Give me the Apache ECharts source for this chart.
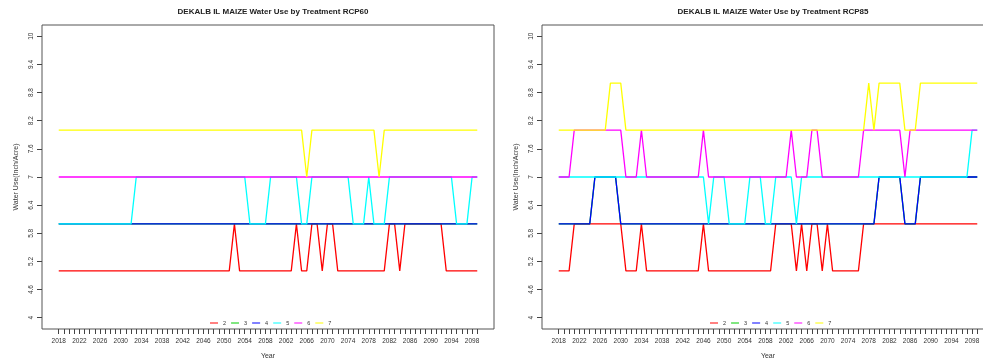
<!DOCTYPE html>
<html><head><meta charset="utf-8">
<script src="https://cdn.jsdelivr.net/npm/echarts@6/dist/echarts.min.js"></script>
<style>html,body{margin:0;padding:0;background:#fff}#c{width:983px;height:364px}</style>
</head><body><div id="c"></div>
<script>
const years = [2018,2019,2020,2021,2022,2023,2024,2025,2026,2027,
  2028,2029,2030,2031,2032,2033,2034,2035,2036,2037,
  2038,2039,2040,2041,2042,2043,2044,2045,2046,2047,
  2048,2049,2050,2051,2052,2053,2054,2055,2056,2057,
  2058,2059,2060,2061,2062,2063,2064,2065,2066,2067,
  2068,2069,2070,2071,2072,2073,2074,2075,2076,2077,
  2078,2079,2080,2081,2082,2083,2084,2085,2086,2087,
  2088,2089,2090,2091,2092,2093,2094,2095,2096,2097,
  2098,2099];
const xTickLabels = [2018,2022,2026,2030,2034,2038,2042,2046,2050,2054,2058,2062,2066,2070,2074,2078,2082,2086,2090,2094,2098];
const yTickValues = [4,4.6,5.2,5.8,6.4,7,7.6,8.2,8.8,9.4,10];
const seriesNames = ['2','3','4','5','6','7'];
const titles = ['DEKALB IL MAIZE Water Use by Treatment RCP60','DEKALB IL MAIZE Water Use by Treatment RCP85'];

// RCP60
const red60 = [5,5,5,5,5,5,5,5,5,5, 5,5,5,5,5,5,5,5,5,5, 5,5,5,5,5,5,5,5,5,5, 5,5,5,5,6,5,5,5,5,5,
  5,5,5,5,5,5,6,5,5,6, 6,5,6,6,5,5,5,5,5,5, 5,5,5,5,6,6,5,6,6,6, 6,6,6,6,6,5,5,5,5,5, 5,5];
const green60 = [6,6,6,6,6,6,6,6,6,6, 6,6,6,6,6,6,6,6,6,6, 6,6,6,6,6,6,6,6,6,6, 6,6,6,6,6,6,6,6,6,6,
  6,6,6,6,6,6,6,6,6,6, 6,6,6,6,6,6,6,6,6,6, 6,6,6,6,6,6,6,6,6,6, 6,6,6,6,6,6,6,6,6,6, 6,6];
const blue60 = [6,6,6,6,6,6,6,6,6,6, 6,6,6,6,6,6,6,6,6,6, 6,6,6,6,6,6,6,6,6,6, 6,6,6,6,6,6,6,6,6,6,
  6,6,6,6,6,6,6,6,6,6, 6,6,6,6,6,6,6,6,6,6, 6,6,6,6,6,6,6,6,6,6, 6,6,6,6,6,6,6,6,6,6, 6,6];
const cyan60 = [6,6,6,6,6,6,6,6,6,6, 6,6,6,6,6,7,7,7,7,7, 7,7,7,7,7,7,7,7,7,7, 7,7,7,7,7,7,7,6,6,6,
  6,7,7,7,7,7,7,6,6,7, 7,7,7,7,7,7,7,6,6,6, 7,6,6,6,7,7,7,7,7,7, 7,7,7,7,7,7,7,6,6,6, 7,7];
const magenta60 = [7,7,7,7,7,7,7,7,7,7, 7,7,7,7,7,7,7,7,7,7, 7,7,7,7,7,7,7,7,7,7, 7,7,7,7,7,7,7,7,7,7,
  7,7,7,7,7,7,7,7,7,7, 7,7,7,7,7,7,7,7,7,7, 7,7,7,7,7,7,7,7,7,7, 7,7,7,7,7,7,7,7,7,7, 7,7];
const yellow60 = [8,8,8,8,8,8,8,8,8,8, 8,8,8,8,8,8,8,8,8,8, 8,8,8,8,8,8,8,8,8,8, 8,8,8,8,8,8,8,8,8,8,
  8,8,8,8,8,8,8,8,7,8, 8,8,8,8,8,8,8,8,8,8, 8,8,7,8,8,8,8,8,8,8, 8,8,8,8,8,8,8,8,8,8, 8,8];

// RCP85
const red85 = [5,5,5,6,6,6,6,6,6,6, 6,6,6,5,5,5,6,5,5,5, 5,5,5,5,5,5,5,5,6,5, 5,5,5,5,5,5,5,5,5,5,
  5,5,6,6,6,6,5,6,5,6, 6,5,6,5,5,5,5,5,5,6, 6,6,6,6,6,6,6,6,6,6, 6,6,6,6,6,6,6,6,6,6, 6,6];
const green85 = [6,6,6,6,6,6,6,7,7,7, 7,7,6,6,6,6,6,6,6,6, 6,6,6,6,6,6,6,6,6,6, 6,6,6,6,6,6,6,6,6,6,
  6,6,6,6,6,6,6,6,6,6, 6,6,6,6,6,6,6,6,6,6, 6,6,7,7,7,7,7,6,6,6, 7,7,7,7,7,7,7,7,7,7, 7,7];
const blue85 = [6,6,6,6,6,6,6,7,7,7, 7,7,6,6,6,6,6,6,6,6, 6,6,6,6,6,6,6,6,6,6, 6,6,6,6,6,6,6,6,6,6,
  6,6,6,6,6,6,6,6,6,6, 6,6,6,6,6,6,6,6,6,6, 6,6,7,7,7,7,7,6,6,6, 7,7,7,7,7,7,7,7,7,7, 7,7];
const cyan85 = [7,7,7,7,7,7,7,7,7,7, 7,7,7,7,7,7,7,7,7,7, 7,7,7,7,7,7,7,7,7,6, 7,7,7,6,6,6,6,7,7,7,
  6,6,7,7,7,7,6,7,7,7, 7,7,7,7,7,7,7,7,7,7, 7,7,7,7,7,7,7,7,7,7, 7,7,7,7,7,7,7,7,7,7, 8,8];
const magenta85 = [7,7,7,8,8,8,8,8,8,8, 8,8,8,7,7,7,8,7,7,7, 7,7,7,7,7,7,7,7,8,7, 7,7,7,7,7,7,7,7,7,7,
  7,7,7,7,7,8,7,7,7,8, 8,7,7,7,7,7,7,7,7,8, 8,8,8,8,8,8,8,7,8,8, 8,8,8,8,8,8,8,8,8,8, 8,8];
const yellow85 = [8,8,8,8,8,8,8,8,8,8, 9,9,9,8,8,8,8,8,8,8, 8,8,8,8,8,8,8,8,8,8, 8,8,8,8,8,8,8,8,8,8,
  8,8,8,8,8,8,8,8,8,8, 8,8,8,8,8,8,8,8,8,8, 9,8,9,9,9,9,9,8,8,8, 9,9,9,9,9,9,9,9,9,9, 9,9];

const panels = [
  [red60, green60, blue60, cyan60, magenta60, yellow60],
  [red85, green85, blue85, cyan85, magenta85, yellow85]
];
const colors = ['#FF0000','#00CD00','#0000FF','#00FFFF','#FF00FF','#FFFF00'];

const FONT = "'Liberation Sans', Arial, sans-serif";
const panelLeft = [42, 542];
const panelWidth = [452, 452];
const gridTop = 25, gridHeight = 304;
const xPad = 0.04 * (years[years.length-1] - years[0]);
const yPad = 0.04 * (yTickValues[yTickValues.length-1] - yTickValues[0]);

const option = {
  animation: false,
  backgroundColor: '#fff',
  textStyle: {fontFamily: FONT},
  title: titles.map((t, i) => ({
    text: t, left: panelLeft[i] + 226, top: 3, textAlign: 'center',
    textStyle: {fontSize: 8, fontWeight: 'bold', color: '#222', fontFamily: FONT}
  })),
  legend: [0,1].map(i => ({
    data: seriesNames, left: panelLeft[i] + 168, top: 320, orient: 'horizontal',
    icon: 'rect', itemWidth: 8, itemHeight: 1, itemGap: 5, padding: 0,
    textStyle: {fontSize: 5.5, color: '#333', fontFamily: FONT}, selectedMode: false
  })),
  grid: [0,1].map(i => ({
    left: panelLeft[i], top: gridTop, width: panelWidth[i], height: gridHeight,
    outerBoundsMode: 'none', containLabel: false,
    show: true, borderColor: '#555', borderWidth: 1, backgroundColor: 'transparent'
  })),
  xAxis: [0,1].map(i => ({
    type: 'value', gridIndex: i,
    min: years[0] - xPad, max: years[years.length-1] + xPad,
    name: 'Year', nameLocation: 'middle', nameGap: 24,
    nameTextStyle: {fontSize: 7, color: '#333', fontFamily: FONT},
    axisLine: {show: false},
    axisTick: {show: true, customValues: years, length: 5, inside: false, lineStyle: {color: '#444', width: 1}},
    axisLabel: {customValues: xTickLabels, formatter: v => String(v), fontSize: 6.5, margin: 9, color: '#333', fontFamily: FONT},
    splitLine: {show: false}
  })),
  yAxis: [0,1].map(i => ({
    type: 'value', gridIndex: i,
    min: yTickValues[0] - yPad, max: yTickValues[yTickValues.length-1] + yPad,
    name: 'Water Use(Inch/Acre)', nameLocation: 'middle', nameGap: 22, nameRotate: 90,
    nameTextStyle: {fontSize: 7, color: '#333', fontFamily: FONT},
    axisLine: {show: false},
    axisTick: {show: true, customValues: yTickValues, length: 5, lineStyle: {color: '#444', width: 1}},
    axisLabel: {customValues: yTickValues, formatter: v => String(v), rotate: 90, fontSize: 6.5, margin: 7, color: '#333', fontFamily: FONT},
    splitLine: {show: false}
  })),
  series: []
};

panels.forEach((vals, p) => {
  vals.forEach((arr, k) => {
    option.series.push({
      type: 'line', name: seriesNames[k], xAxisIndex: p, yAxisIndex: p,
      data: years.map((y, j) => [y, arr[j]]),
      showSymbol: false, symbol: 'none',
      lineStyle: {color: colors[k], width: 1.3},
      itemStyle: {color: colors[k]},
      emphasis: {disabled: true}
    });
  });
});

const chart = echarts.init(document.getElementById('c'), null, {renderer: 'canvas'});
chart.setOption(option);
</script>
</body></html>
